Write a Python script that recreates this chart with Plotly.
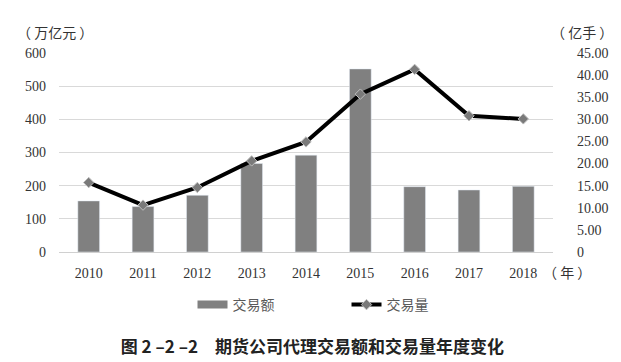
import plotly.graph_objects as go

years = ["2010", "2011", "2012", "2013", "2014", "2015", "2016", "2017", "2018"]
amount = [154, 137, 171, 267, 292, 552, 197, 187, 198]  # 交易额 (万亿元)
volume = [15.7, 10.6, 14.6, 20.6, 24.9, 35.7, 41.3, 30.8, 30.1]  # 交易量 (亿手)
left_ticks = [0, 100, 200, 300, 400, 500, 600]
right_ticks = [0, 5, 10, 15, 20, 25, 30, 35, 40, 45]
right_labels = ["0"] + [f"{v:.2f}" for v in right_ticks[1:]]

serif = "Liberation Serif, Times New Roman, serif"
cjk = "Noto Sans CJK SC"
bar_color = "#808080"

fig = go.Figure()
fig.add_trace(go.Bar(x=years, y=amount, name="交易额", marker_color=bar_color,
                     yaxis="y", showlegend=False))
# legend-only entry giving the wide Excel-style bar swatch
fig.add_trace(go.Scatter(x=[None], y=[None], name="交易额", mode="lines",
                         line=dict(color=bar_color, width=8), showlegend=True))
fig.add_trace(go.Scatter(x=years, y=volume, name="交易量", yaxis="y2",
                         mode="lines+markers",
                         line=dict(color="black", width=4),
                         marker=dict(symbol="diamond", size=8, color="#7a7a7a",
                                     line=dict(color="#bdbdbd", width=1))))

fig.update_layout(
    width=621, height=362,
    margin=dict(l=59, r=68, t=53, b=110, autoexpand=False),
    plot_bgcolor="white", paper_bgcolor="white",
    bargap=0.6,
    showlegend=True,
    legend=dict(orientation="h", xref="container", yref="container",
                x=0.31, xanchor="left", y=1 - 305 / 362, yanchor="middle",
                font=dict(family=cjk, size=14, color="#595959"),
                itemwidth=30, entrywidth=109, traceorder="normal"),
    xaxis=dict(tickfont=dict(family=serif, size=14, color="#333"), showgrid=False,
               showline=True, linecolor="#d0d0d0", ticks="", ticklabelstandoff=8),
    yaxis=dict(range=[0, 600], tickvals=left_ticks, showgrid=True, gridcolor="#d9d9d9",
               tickfont=dict(family=serif, size=14, color="#333"), zeroline=False,
               ticks="", ticklabelstandoff=12),
    yaxis2=dict(range=[0, 45], tickvals=right_ticks, ticktext=right_labels,
                overlaying="y", side="right", showgrid=False, zeroline=False,
                tickfont=dict(family=serif, size=14, color="#333"), ticks="",
                ticklabelstandoff=23),
    font=dict(family=serif),
    title=dict(text="<b>图 2 –2 –2　期货公司代理交易额和交易量年度变化</b>",
               xref="container", yref="container", x=0.503, xanchor="center",
               y=1 - 347 / 362, yanchor="middle",
               font=dict(family=cjk, size=17, color="#222")),
)

fig.add_annotation(text="（ 万亿元 ）", xref="paper", yref="paper", x=-0.09, y=1.105,
                   xanchor="left", yanchor="middle", showarrow=False,
                   font=dict(family=cjk, size=14, color="#333"))
fig.add_annotation(text="（ 亿手 ）", xref="paper", yref="paper", x=0.992, y=1.105,
                   xanchor="left", yanchor="middle", showarrow=False,
                   font=dict(family=cjk, size=14, color="#333"))
fig.add_annotation(text="（ 年 ）", xref="paper", yref="paper", x=0.976, y=-0.1,
                   xanchor="left", yanchor="middle", showarrow=False,
                   font=dict(family=cjk, size=14, color="#333"))

fig.write_html("out.html", config={"displayModeBar": False},
               post_script="document.body.style.margin='0';document.body.style.overflow='hidden';")
